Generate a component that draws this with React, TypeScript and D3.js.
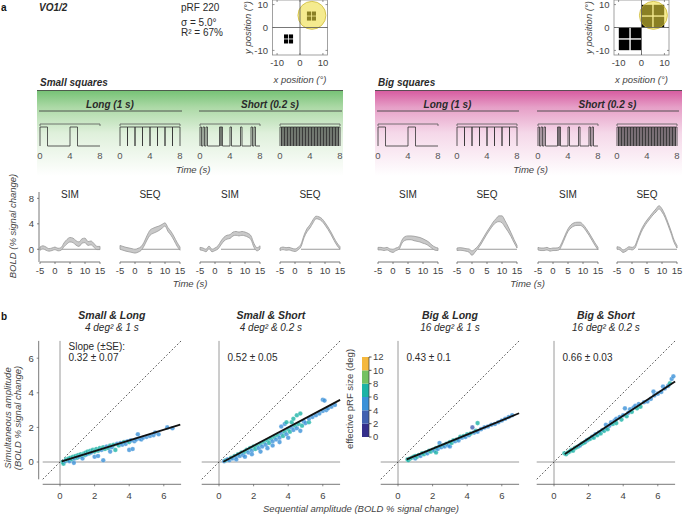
import React from 'react';
import * as d3 from 'd3';

const FONT = "'Liberation Sans', Arial, Helvetica, sans-serif";

// ---------- panel a: pRF insets ----------
const INSET_TICKS = [-10, 0, 10];
const SQUARE_CENTERS = [[-5, -5], [5, 5]];
const SMALL_SIDE = 1.8, SMALL_GAP = 0.35;
const BIG_SIDE = 4.6, BIG_GAP = 0.6;
const PRF_CENTER = [5.2, 5.3];
const PRF_RADIUS = 6.1;

// ---------- stimulus timing ----------
const STIM_TICKS = [0, 4, 8];
const SIM_LONG_ONSETS = [0, 4];
const SEQ_LONG_ONSETS = [0, 1, 2, 3, 4, 5, 6, 7];
const SIM_SHORT_ONSETS = [0, 0.4, 0.8, 2.6, 2.8, 4.0, 5.4, 6.8, 7.2];
const SEQ_SHORT_ONSETS = [0, 0.2, 0.4, 0.6, 0.8, 1.0, 1.2, 1.4, 1.6, 1.8, 2.0, 2.2, 2.4, 2.6, 2.8, 3.0, 3.2, 3.4, 3.6, 3.8,
  4.0, 4.2, 4.4, 4.6, 4.8, 5.0, 5.2, 5.4, 5.6, 5.8, 6.0, 6.2, 6.4, 6.6, 6.8, 7.0, 7.2, 7.4, 7.6, 7.8];
const STIM_ONSETS = [SIM_LONG_ONSETS, SEQ_LONG_ONSETS, SIM_SHORT_ONSETS, SEQ_SHORT_ONSETS];
const STIM_DUR = [1, 1, 0.2, 0.2];

// ---------- BOLD time courses ----------
const TIME = [-5, -4, -3, -2, -1, 0, 1, 2, 3, 4, 5, 6, 7, 8, 9, 10, 11, 12, 13, 14, 15];
const BOLD_TICKS_X = [-5, 0, 5, 10, 15];
const BOLD_TICKS_Y = [0, 4, 8];
const COND_LABELS = ['SIM', 'SEQ', 'SIM', 'SEQ'];

const SMALL_SIM_LONG = [0.1, 0.3, 0.1, -0.1, 0.0, 0.15, -0.05, 0.05, 0.7, 1.2, 1.5, 1.4, 1.0, 0.8, 1.3, 1.4, 0.9, 1.0, 0.6, 0.2, 0.2];
const SMALL_SIM_LONG_SE = [0.25, 0.25, 0.25, 0.2, 0.2, 0.2, 0.2, 0.2, 0.3, 0.35, 0.35, 0.35, 0.35, 0.35, 0.35, 0.35, 0.3, 0.3, 0.3, 0.25, 0.25];
const SMALL_SEQ_LONG = [0.3, 0.15, 0.0, -0.1, -0.2, -0.3, -0.15, 0.1, 0.8, 1.8, 2.6, 2.9, 3.1, 3.3, 3.6, 3.9, 3.1, 2.5, 1.7, 0.8, 0.1];
const SMALL_SEQ_LONG_SE = [0.3, 0.3, 0.3, 0.3, 0.3, 0.3, 0.3, 0.3, 0.3, 0.35, 0.4, 0.4, 0.4, 0.35, 0.3, 0.25, 0.3, 0.3, 0.3, 0.3, 0.25];
const SMALL_SIM_SHORT = [0.1, 0.0, -0.2, 0.3, -0.2, 0.0, 0.3, 1.0, 1.6, 1.9, 2.0, 2.4, 2.5, 2.4, 2.5, 2.4, 2.2, 1.8, 0.6, 0.0, 0.3];
const SMALL_SIM_SHORT_SE = [0.2, 0.2, 0.2, 0.2, 0.2, 0.2, 0.25, 0.3, 0.3, 0.3, 0.3, 0.3, 0.3, 0.3, 0.3, 0.3, 0.3, 0.3, 0.3, 0.25, 0.25];
const SMALL_SEQ_SHORT = [0.0, 0.15, 0.05, 0.1, -0.05, -0.15, 0.1, 0.6, 2.0, 3.0, 3.6, 4.4, 5.0, 4.9, 4.6, 4.0, 3.3, 2.5, 1.6, 0.8, 0.2];
const SMALL_SEQ_SHORT_SE = [0.2, 0.2, 0.2, 0.2, 0.2, 0.2, 0.2, 0.2, 0.2, 0.25, 0.25, 0.25, 0.2, 0.2, 0.2, 0.2, 0.2, 0.2, 0.2, 0.2, 0.2];

const BIG_SIM_LONG = [0.1, 0.1, 0.0, 0.1, -0.15, -0.25, 0.0, 0.2, 1.2, 1.7, 1.8, 1.8, 1.7, 1.6, 1.5, 1.3, 1.1, 0.8, 0.4, 0.1, 0.0];
const BIG_SIM_LONG_SE = [0.2, 0.2, 0.2, 0.2, 0.2, 0.25, 0.2, 0.2, 0.25, 0.3, 0.3, 0.3, 0.35, 0.35, 0.35, 0.35, 0.3, 0.3, 0.25, 0.25, 0.2];
const BIG_SEQ_LONG = [0.0, 0.05, 0.0, -0.1, -0.2, -0.6, -0.2, 0.3, 1.0, 1.8, 2.6, 3.3, 4.0, 4.5, 4.8, 4.7, 4.0, 3.2, 2.3, 1.3, 0.4];
const BIG_SEQ_LONG_SE = [0.2, 0.2, 0.2, 0.2, 0.25, 0.35, 0.25, 0.2, 0.2, 0.2, 0.2, 0.2, 0.25, 0.3, 0.45, 0.55, 0.5, 0.4, 0.3, 0.25, 0.2];
const BIG_SIM_SHORT = [0.1, 0.0, 0.0, 0.1, -0.1, 0.0, 0.0, 0.1, 0.9, 2.0, 3.0, 3.6, 3.9, 4.0, 4.0, 3.7, 3.1, 2.4, 1.6, 0.8, 0.1];
const BIG_SIM_SHORT_SE = [0.2, 0.2, 0.2, 0.2, 0.2, 0.2, 0.2, 0.2, 0.2, 0.2, 0.2, 0.25, 0.25, 0.25, 0.25, 0.2, 0.2, 0.2, 0.2, 0.2, 0.2];
const BIG_SEQ_SHORT = [0.2, 0.1, -0.3, -0.1, 0.2, 0.1, 0.4, 1.6, 2.8, 3.7, 4.4, 5.0, 5.6, 6.1, 6.6, 6.1, 5.2, 4.0, 2.7, 1.3, 0.4];
const BIG_SEQ_SHORT_SE = [0.2, 0.2, 0.2, 0.2, 0.2, 0.2, 0.2, 0.2, 0.2, 0.2, 0.2, 0.2, 0.2, 0.25, 0.25, 0.25, 0.2, 0.2, 0.2, 0.2, 0.2];

const SMALL_MEANS = [SMALL_SIM_LONG, SMALL_SEQ_LONG, SMALL_SIM_SHORT, SMALL_SEQ_SHORT];
const SMALL_SES = [SMALL_SIM_LONG_SE, SMALL_SEQ_LONG_SE, SMALL_SIM_SHORT_SE, SMALL_SEQ_SHORT_SE];
const BIG_MEANS = [BIG_SIM_LONG, BIG_SEQ_LONG, BIG_SIM_SHORT, BIG_SEQ_SHORT];
const BIG_SES = [BIG_SIM_LONG_SE, BIG_SEQ_LONG_SE, BIG_SIM_SHORT_SE, BIG_SEQ_SHORT_SE];

// ---------- panel b: scatter ----------
const PANEL_TITLES = ['Small & Long', 'Small & Short', 'Big & Long', 'Big & Short'];
const PANEL_SUBS = ['4 deg² & 1 s', '4 deg² & 0.2 s', '16 deg² & 1 s', '16 deg² & 0.2 s'];
const SLOPE_TEXT = ['0.32 ± 0.07', '0.52 ± 0.05', '0.43 ± 0.1', '0.66 ± 0.03'];
const FIT_SLOPE = [0.31, 0.53, 0.41, 0.66];
const FIT_INT = [0.0, -0.12, -0.05, 0.04];
const FIT_X0 = [0.1, 0.25, 0.5, 0.63];
const FIT_X1 = [6.95, 7.0, 7.0, 7.0];
const SC_TICKS = [0, 2, 4, 6];

const CB_BREAKS = [0, 2, 4, 6, 8, 10, 12];
const CB_COLORS = ['#352f8c', '#4160b0', '#3b91d8', '#1cb3a6', '#74c162', '#f5b83d'];

// [sequential, simultaneous, pRF size]
const PTS_SMALL_LONG = [[0.15, 0.0, 6], [0.2, -0.1, 7], [0.3, 0.05, 5], [0.35, 0.15, 7], [0.45, 0.1, 6], [0.5, 0.2, 7], [0.55, 0.05, 5], [0.6, 0.25, 7], [0.7, 0.15, 6], [0.75, 0.3, 7], [0.8, -0.05, 4], [0.85, 0.2, 5], [0.9, 0.35, 7], [1.0, 0.25, 6], [1.05, 0.4, 7], [1.1, 0.3, 5], [1.2, 0.45, 7], [1.25, 0.35, 6], [1.3, 0.2, 5], [1.4, 0.5, 7], [1.45, 0.4, 6], [1.5, 0.55, 7], [1.55, 0.45, 5], [1.6, 0.6, 7], [1.7, 0.5, 6], [1.75, 0.65, 7], [1.8, 0.55, 5], [1.9, 0.7, 7], [2.0, 0.6, 6], [2.0, 0.3, 4], [2.1, 0.75, 7], [2.2, 0.35, 4], [2.2, 0.65, 6], [2.3, 0.8, 7], [2.4, 0.7, 5], [2.5, 0.1, 4], [2.5, 0.85, 6], [2.6, 0.75, 7], [2.7, 0.9, 5], [2.8, 0.8, 6], [2.9, 0.6, 4], [2.9, 0.95, 7], [3.0, 0.85, 5], [3.1, 1.0, 6], [3.2, 0.7, 7], [3.3, 1.05, 5], [3.4, 0.95, 6], [3.5, 1.1, 5], [3.6, 1.0, 4], [3.7, 1.15, 6], [3.8, 1.05, 5], [3.9, 1.2, 5], [4.0, 0.7, 4], [4.0, 1.15, 6], [4.1, 1.25, 5], [4.2, 0.75, 4], [4.3, 1.2, 5], [4.4, 1.3, 5], [4.5, 1.6, 4], [4.6, 1.35, 5], [4.7, 1.3, 4], [4.8, 1.4, 5], [5.0, 1.45, 4], [5.2, 1.5, 5], [5.4, 1.55, 4], [5.5, 1.7, 4], [5.7, 1.6, 5], [6.2, 2.0, 4], [6.5, 1.95, 4]];
const PTS_SMALL_SHORT = [[0.3, 0.05, 5], [0.4, 0.1, 6], [0.5, 0.15, 5], [0.6, 0.1, 4], [0.7, 0.25, 6], [0.8, 0.2, 5], [0.9, 0.35, 7], [1.0, 0.3, 5], [1.0, 0.15, 4], [1.1, 0.45, 7], [1.2, 0.35, 5], [1.3, 0.55, 7], [1.4, 0.4, 5], [1.5, 0.6, 7], [1.5, 0.3, 4], [1.6, 0.7, 7], [1.7, 0.55, 5], [1.8, 0.8, 7], [1.9, 0.65, 5], [1.9, 0.45, 4], [2.0, 0.9, 6], [2.1, 0.75, 7], [2.2, 0.95, 7], [2.3, 0.8, 5], [2.4, 0.6, 4], [2.4, 1.05, 7], [2.5, 0.9, 5], [2.6, 1.15, 7], [2.7, 1.0, 5], [2.8, 0.8, 4], [2.8, 1.25, 7], [2.9, 1.1, 6], [3.0, 1.35, 7], [3.1, 1.2, 5], [3.1, 0.95, 4], [3.2, 1.45, 7], [3.3, 1.3, 5], [3.4, 1.55, 6], [3.5, 1.4, 5], [3.5, 1.15, 4], [3.6, 1.65, 4], [3.6, 2.05, 5], [3.7, 1.5, 6], [3.8, 1.75, 7], [3.8, 2.2, 4], [3.9, 1.6, 5], [3.9, 2.3, 6], [4.0, 1.9, 7], [4.0, 1.4, 4], [4.1, 1.75, 6], [4.2, 2.3, 7], [4.2, 2.0, 5], [4.3, 1.85, 4], [4.3, 2.5, 7], [4.4, 2.1, 7], [4.5, 1.95, 5], [4.5, 2.7, 6], [4.6, 2.2, 7], [4.7, 1.8, 4], [4.7, 2.8, 7], [4.8, 2.1, 6], [4.9, 2.35, 5], [5.0, 2.25, 4], [5.2, 2.3, 7], [5.2, 2.5, 5], [5.4, 2.6, 4], [5.6, 2.7, 5], [5.8, 2.8, 4], [6.0, 2.95, 5], [6.0, 3.6, 4], [6.1, 3.55, 4], [6.2, 3.0, 5], [6.3, 3.1, 4], [6.5, 3.2, 4], [6.7, 3.3, 4]];
const PTS_BIG_LONG = [[0.55, 0.15, 7], [0.6, 0.1, 6], [0.7, 0.2, 7], [0.8, 0.25, 6], [0.9, 0.3, 7], [1.0, 0.2, 5], [1.0, 0.35, 7], [1.1, 0.3, 6], [1.2, 0.4, 7], [1.3, 0.35, 5], [1.4, 0.5, 7], [1.5, 0.45, 6], [1.6, 0.55, 7], [1.7, 0.5, 5], [1.8, 0.65, 7], [1.9, 0.6, 6], [2.0, 0.7, 7], [2.1, 0.65, 5], [2.2, 0.8, 7], [2.2, 0.55, 6], [2.3, 0.75, 5], [2.4, 1.1, 4], [2.4, 0.9, 7], [2.5, 0.85, 5], [2.6, 0.95, 7], [2.7, 0.9, 5], [2.8, 1.05, 6], [2.9, 0.95, 5], [3.0, 1.15, 7], [3.0, 0.9, 5], [3.1, 1.1, 6], [3.2, 1.25, 7], [3.3, 1.2, 5], [3.4, 1.3, 6], [3.5, 1.25, 5], [3.6, 1.45, 7], [3.7, 1.4, 5], [3.8, 1.5, 6], [3.9, 1.45, 5], [4.0, 1.6, 7], [4.1, 1.55, 5], [4.2, 1.65, 6], [4.3, 2.0, 3], [4.4, 1.7, 5], [4.5, 1.8, 6], [4.6, 2.25, 7], [4.6, 1.75, 5], [4.8, 1.9, 5], [5.0, 2.0, 5], [5.2, 2.05, 5], [5.4, 2.15, 5], [5.6, 2.2, 4], [5.8, 2.3, 5], [6.0, 2.4, 4], [6.2, 2.5, 4], [6.4, 2.6, 5], [6.6, 2.7, 4]];
const PTS_BIG_SHORT = [[0.6, 0.5, 7], [0.7, 0.45, 6], [0.8, 0.55, 7], [0.9, 0.6, 6], [1.0, 0.7, 7], [1.1, 0.65, 6], [1.2, 0.8, 7], [1.3, 0.85, 6], [1.4, 0.9, 7], [1.5, 0.95, 5], [1.6, 1.05, 7], [1.7, 1.1, 6], [1.8, 1.15, 7], [1.9, 1.25, 5], [2.0, 1.3, 7], [2.1, 1.35, 6], [2.2, 1.45, 5], [2.3, 1.4, 7], [2.4, 1.6, 5], [2.5, 1.55, 7], [2.6, 1.7, 5], [2.7, 1.65, 7], [2.8, 1.85, 5], [2.9, 1.8, 7], [3.0, 1.95, 5], [3.0, 2.15, 4], [3.1, 1.9, 7], [3.2, 2.1, 5], [3.3, 2.3, 4], [3.4, 2.2, 7], [3.5, 2.4, 5], [3.6, 2.5, 4], [3.6, 2.25, 7], [3.8, 2.6, 5], [3.9, 2.45, 7], [4.0, 2.7, 4], [4.1, 3.1, 4], [4.2, 2.65, 7], [4.3, 2.85, 5], [4.4, 3.05, 4], [4.5, 2.9, 6], [4.6, 3.15, 5], [4.7, 3.25, 4], [4.8, 3.1, 7], [4.9, 3.35, 5], [5.0, 3.2, 6], [5.2, 3.45, 5], [5.4, 3.5, 4], [5.6, 3.65, 5], [5.75, 4.07, 4], [5.8, 3.85, 4], [6.0, 3.95, 5], [6.2, 4.05, 4], [6.3, 4.36, 4], [6.4, 4.25, 5], [6.6, 4.4, 4], [6.7, 4.55, 7], [6.8, 4.8, 4], [6.9, 4.95, 4]];
const PANEL_PTS = [PTS_SMALL_LONG, PTS_SMALL_SHORT, PTS_BIG_LONG, PTS_BIG_SHORT];

// ---------- layout ----------
const TXT = '#2a2a2a';
const TICK = '#444';
const SMALL_X = [40, 120, 200, 280];
const BIG_X = [378, 457, 538, 617];
const PANEL_X0 = [60, 219, 398, 554];
const UNIT = 17.3;
const SC_Y0 = 462;

function Inset({ left, big }: { left: number; big: boolean }) {
  const x = d3.scaleLinear().domain([-12, 12]).range([left, left + 55]);
  const y = d3.scaleLinear().domain([-12, 12]).range([55, 0]);
  const side = big ? BIG_SIDE : SMALL_SIDE;
  const gap = big ? BIG_GAP : SMALL_GAP;
  const squares: number[][] = [];
  SQUARE_CENTERS.forEach(([cx, cy]) => {
    [-1, 1].forEach((sx) => [-1, 1].forEach((sy) => {
      const qx = cx + sx * (gap / 2 + side / 2);
      const qy = cy + sy * (gap / 2 + side / 2);
      squares.push([qx - side / 2, qy + side / 2]);
    }));
  });
  const px = (v: number) => x(v) - x(0);
  return (
    <g>
      <rect x={x(-12)} y={y(12)} width={x(12) - x(-12)} height={y(-12) - y(12)} fill="#fff" stroke="#8a8a8a" strokeWidth={0.8} />
      {squares.map((s, i) => (
        <rect key={i} x={x(s[0])} y={y(s[1])} width={px(side)} height={px(side)} fill="#000" />
      ))}
      <circle cx={x(PRF_CENTER[0])} cy={y(PRF_CENTER[1])} r={px(PRF_RADIUS)} fill="#eedc3e" fillOpacity={0.58} stroke="#cdb935" strokeWidth={0.8} />
      <line x1={x(0)} x2={x(0)} y1={y(12)} y2={y(-12)} stroke="#555" strokeWidth={0.8} />
      <line x1={x(-12)} x2={x(12)} y1={y(0)} y2={y(0)} stroke="#555" strokeWidth={0.8} />
      {INSET_TICKS.map((t) => (
        <g key={t}>
          <line x1={x(t)} x2={x(t)} y1={y(-12)} y2={y(-12) - 2} stroke="#666" strokeWidth={0.7} />
          <line x1={x(t)} x2={x(t)} y1={y(12)} y2={y(12) + 2} stroke="#666" strokeWidth={0.7} />
          <line x1={x(-12)} x2={x(-12) + 2} y1={y(t)} y2={y(t)} stroke="#666" strokeWidth={0.7} />
          <line x1={x(12)} x2={x(12) - 2} y1={y(t)} y2={y(t)} stroke="#666" strokeWidth={0.7} />
          <text x={x(t)} y={66} textAnchor="middle" fontSize={9.5} fill={TICK}>{t === -10 ? '-10' : t}</text>
          <text x={x(-12) - 4.5} y={y(t) + 3.3} textAnchor="end" fontSize={9.5} fill={TICK}>{t === -10 ? '-10' : t}</text>
        </g>
      ))}
      <text x={x(0)} y={83} textAnchor="middle" fontSize={9.5} fontStyle="italic" fill={TICK}>x position (°)</text>
      <text transform={`translate(${x(-12) - 22},${y(0)}) rotate(-90)`} textAnchor="middle" fontSize={9.5} fontStyle="italic" fill={TICK}>y position (°)</text>
    </g>
  );
}

function pulsePath(onsets: number[], dur: number, x: d3.ScaleLinear<number, number>, top: number, base: number) {
  let p = `M${x(0)},${base}`;
  onsets.forEach((o) => {
    p += `L${x(o)},${base}L${x(o)},${top}L${x(o + dur)},${top}L${x(o + dur)},${base}`;
  });
  p += `L${x(8)},${base}`;
  return p;
}

function StimGroup({ xs, title, gradId, left, right, lineColor }: { xs: number[]; title: string; gradId: string; left: number; right: number; lineColor: string }) {
  const longC = (xs[0] + xs[1] + 60) / 2;
  const shortC = (xs[2] + xs[3] + 60) / 2;
  return (
    <g>
      <text x={left + 3} y={86} fontSize={10} fontWeight="bold" fontStyle="italic" fill={TXT}>{title}</text>
      <rect x={left} y={90} width={right - left} height={86} fill={`url(#${gradId})`} />
      <line x1={left} x2={right} y1={90.5} y2={90.5} stroke={lineColor} strokeWidth={1.2} />
      <text x={longC} y={107.5} textAnchor="middle" fontSize={10} fontWeight="bold" fontStyle="italic" fill={TXT}>Long (1 s)</text>
      <text x={shortC} y={107.5} textAnchor="middle" fontSize={10} fontWeight="bold" fontStyle="italic" fill={TXT}>Short (0.2 s)</text>
      <line x1={xs[0] - 1} x2={xs[1] + 62} y1={111} y2={111} stroke="#444" strokeWidth={0.9} />
      <line x1={xs[2] - 1} x2={Math.min(xs[3] + 62, 682)} y1={111} y2={111} stroke="#444" strokeWidth={0.9} />
      {xs.map((x0, i) => {
        const x = d3.scaleLinear().domain([0, 8]).range([x0, x0 + 60]);
        return (
          <g key={i}>
            <path d={`M${x(0)},126V124H${x(8)}V126`} fill="none" stroke="#555" strokeWidth={0.8} />
            <path d={pulsePath(STIM_ONSETS[i], STIM_DUR[i], x, 127, 146)} fill="none" stroke="#333" strokeWidth={0.8} />
            {STIM_TICKS.map((t) => (
              <text key={t} x={x(t)} y={159} textAnchor="middle" fontSize={9.5} fill="#555">{t}</text>
            ))}
          </g>
        );
      })}
      <text x={(xs[0] + xs[3] + 60) / 2 + 3} y={173} textAnchor="middle" fontSize={9.5} fontStyle="italic" fill={TICK}>Time (s)</text>
    </g>
  );
}

const boldY = d3.scaleLinear().domain([-2, 9]).range([262, 192]);

function BoldGroup({ xs, means, ses, withY }: { xs: number[]; means: number[][]; ses: number[][]; withY: boolean }) {
  return (
    <g>
      {xs.map((x0, i) => {
        const x = d3.scaleLinear().domain([-5, 15]).range([x0, x0 + 60]);
        const area = d3.area<number>()
          .x((_, k) => x(TIME[k]))
          .y0((_, k) => boldY(means[i][k] - ses[i][k]))
          .y1((_, k) => boldY(means[i][k] + ses[i][k]))
          .curve(d3.curveMonotoneX);
        return (
          <g key={i}>
            <text x={x(5)} y={197.5} textAnchor="middle" fontSize={10} fill={TXT}>{COND_LABELS[i]}</text>
            <line x1={x(2)} x2={x(15)} y1={boldY(0)} y2={boldY(0)} stroke="#9a9a9a" strokeWidth={1.2} />
            <path d={area(means[i]) || ''} fill="#c9c9c9" stroke="#999" strokeWidth={0.8} />
            <line x1={x(-5)} x2={x(15)} y1={262} y2={262} stroke="#555" strokeWidth={0.8} />
            {BOLD_TICKS_X.map((t) => (
              <g key={t}>
                <line x1={x(t)} x2={x(t)} y1={262} y2={264} stroke="#555" strokeWidth={0.7} />
                <text x={x(t)} y={274} textAnchor="middle" fontSize={9.5} fill={TICK}>{t}</text>
              </g>
            ))}
          </g>
        );
      })}
      {withY && (
        <g>
          <line x1={xs[0] - 1} x2={xs[0] - 1} y1={boldY(9)} y2={262} stroke="#555" strokeWidth={0.8} />
          {BOLD_TICKS_Y.map((t) => (
            <g key={t}>
              <line x1={xs[0] - 3} x2={xs[0] - 1} y1={boldY(t)} y2={boldY(t)} stroke="#555" strokeWidth={0.7} />
              <text x={xs[0] - 6} y={boldY(t) + 3.3} textAnchor="end" fontSize={9.5} fill={TICK}>{t}</text>
            </g>
          ))}
        </g>
      )}
      <text x={(xs[0] + xs[3] + 60) / 2} y={287} textAnchor="middle" fontSize={9.5} fontStyle="italic" fill={TICK}>Time (s)</text>
    </g>
  );
}

const color = d3.scaleThreshold<number, string>().domain([2, 4, 6, 8, 10]).range(CB_COLORS);

function Scatter({ idx }: { idx: number }) {
  const x0 = PANEL_X0[idx];
  const x = d3.scaleLinear().domain([0, 1]).range([x0, x0 + UNIT]);
  const y = d3.scaleLinear().domain([0, 1]).range([SC_Y0, SC_Y0 - UNIT]);
  const axisY = y(-1) + 5;
  const pts = PANEL_PTS[idx];
  return (
    <g>
      <text x={x(3)} y={319} textAnchor="middle" fontSize={10.5} fontWeight="bold" fontStyle="italic" fill={TXT}>{PANEL_TITLES[idx]}</text>
      <text x={x(3)} y={331} textAnchor="middle" fontSize={10} fontStyle="italic" fill={TXT}>{PANEL_SUBS[idx]}</text>
      <line x1={x(0)} x2={x(0)} y1={y(7)} y2={axisY} stroke="#9a9a9a" strokeWidth={1} />
      <line x1={x(-1)} x2={x(7)} y1={y(0)} y2={y(0)} stroke="#9a9a9a" strokeWidth={1} />
      <line x1={x(-1)} x2={x(7)} y1={y(-1)} y2={y(7)} stroke="#333" strokeWidth={0.8} strokeDasharray="1.8,2" />
      {pts.map((p, k) => (
        <circle key={k} cx={x(p[0])} cy={y(p[1])} r={2.3} fill={color(p[2])} fillOpacity={0.8} stroke="#ffffff" strokeOpacity={0.45} strokeWidth={0.5} />
      ))}
      <line x1={x(FIT_X0[idx])} x2={x(FIT_X1[idx])} y1={y(FIT_INT[idx] + FIT_SLOPE[idx] * FIT_X0[idx])} y2={y(FIT_INT[idx] + FIT_SLOPE[idx] * FIT_X1[idx])} stroke="#111" strokeWidth={1.8} />
      {idx === 0 && (
        <text x={x(0) + 8.5} y={350} fontSize={10} fill={TXT}>Slope (±SE):</text>
      )}
      <text x={x(0) + 8.5} y={360.5} fontSize={10} fill={TXT}>{SLOPE_TEXT[idx]}</text>
      <line x1={x(-1)} x2={x(7)} y1={axisY} y2={axisY} stroke="#555" strokeWidth={0.8} />
      {SC_TICKS.map((t) => (
        <g key={t}>
          <line x1={x(t)} x2={x(t)} y1={axisY} y2={axisY + 2} stroke="#555" strokeWidth={0.7} />
          <text x={x(t)} y={498.5} textAnchor="middle" fontSize={9.5} fill={TICK}>{t}</text>
        </g>
      ))}
      {idx === 0 && (
        <g>
          <line x1={x(-1) - 4} x2={x(-1) - 4} y1={y(7)} y2={y(-1)} stroke="#555" strokeWidth={0.8} />
          {SC_TICKS.map((t) => (
            <g key={t}>
              <line x1={x(-1) - 6} x2={x(-1) - 4} y1={y(t)} y2={y(t)} stroke="#555" strokeWidth={0.7} />
              <text x={x(-1) - 9} y={y(t) + 3.3} textAnchor="end" fontSize={9.5} fill={TICK}>{t}</text>
            </g>
          ))}
        </g>
      )}
    </g>
  );
}

function ColorBar() {
  const y = d3.scaleLinear().domain([0, 12]).range([437, 357]);
  const left = 362, w = 7;
  return (
    <g>
      {CB_COLORS.map((c, i) => (
        <rect key={i} x={left} y={y(CB_BREAKS[i + 1])} width={w} height={y(CB_BREAKS[i]) - y(CB_BREAKS[i + 1])} fill={c} />
      ))}
      <line x1={left + w} x2={left + w} y1={y(12)} y2={y(0)} stroke="#333" strokeWidth={0.7} />
      {CB_BREAKS.map((t) => (
        <g key={t}>
          <line x1={left + w} x2={left + w + 2.5} y1={y(t)} y2={y(t)} stroke="#222" strokeWidth={0.8} />
          <text x={left + w + 4} y={y(t) + 3.3} fontSize={9.5} fill={TICK}>{t}</text>
        </g>
      ))}
      <text transform={`translate(353,${(y(0) + y(12)) / 2 + 2}) rotate(-90)`} textAnchor="middle" fontSize={9.5} fill={TICK}>effective pRF size (deg)</text>
    </g>
  );
}

export default function App() {
  return (
    <svg width={683} height={515} style={{ position: 'absolute', left: 0, top: 0, background: '#fff' }} fontFamily={FONT}>
      <defs>
        <linearGradient id="gGreen" x1="0" y1="0" x2="0" y2="1">
          <stop offset="0" stopColor="#74c174" />
          <stop offset="0.2" stopColor="#acd9a6" />
          <stop offset="0.5" stopColor="#dff0db" />
          <stop offset="1" stopColor="#ffffff" />
        </linearGradient>
        <linearGradient id="gPink" x1="0" y1="0" x2="0" y2="1">
          <stop offset="0" stopColor="#d6599f" />
          <stop offset="0.2" stopColor="#e69fc7" />
          <stop offset="0.5" stopColor="#f5d8e9" />
          <stop offset="1" stopColor="#ffffff" />
        </linearGradient>
      </defs>
      <rect x={0} y={0} width={683} height={515} fill="#fff" />

      {/* panel a header */}
      <text x={1} y={11} fontSize={10} fontWeight="bold" fill="#111">a</text>
      <text x={39} y={11} fontSize={10} fontWeight="bold" fontStyle="italic" fill={TXT}>VO1/2</text>
      <text x={181} y={11} fontSize={10} fill={TXT}>pRF 220</text>
      <text x={181} y={26} fontSize={10} fill={TXT}>σ = 5.0°</text>
      <text x={181} y={35.5} fontSize={10} fill={TXT}>R² = 67%</text>
      <Inset left={272.5} big={false} />
      <Inset left={614} big={true} />

      <StimGroup xs={SMALL_X} title="Small squares" gradId="gGreen" left={37} right={343} lineColor="#4d5a4d" />
      <StimGroup xs={BIG_X} title="Big squares" gradId="gPink" left={375} right={682} lineColor="#5a4d55" />

      <BoldGroup xs={SMALL_X} means={SMALL_MEANS} ses={SMALL_SES} withY={true} />
      <BoldGroup xs={BIG_X} means={BIG_MEANS} ses={BIG_SES} withY={false} />
      <text transform="translate(16,226) rotate(-90)" textAnchor="middle" fontSize={9.5} fontStyle="italic" fill={TICK}>BOLD (% signal change)</text>

      {/* panel b */}
      <text x={1} y={320} fontSize={10} fontWeight="bold" fill="#111">b</text>
      {[0, 1, 2, 3].map((i) => <Scatter key={i} idx={i} />)}
      <ColorBar />
      <text transform="translate(11,418) rotate(-90)" textAnchor="middle" fontSize={9.5} fontStyle="italic" fill={TICK}>Simultaneous amplitude</text>
      <text transform="translate(21,418) rotate(-90)" textAnchor="middle" fontSize={9.5} fontStyle="italic" fill={TICK}>(BOLD % signal change)</text>
      <text x={361} y={512} textAnchor="middle" fontSize={9.5} fontStyle="italic" fill={TICK}>Sequential amplitude (BOLD % signal change)</text>
    </svg>
  );
}
